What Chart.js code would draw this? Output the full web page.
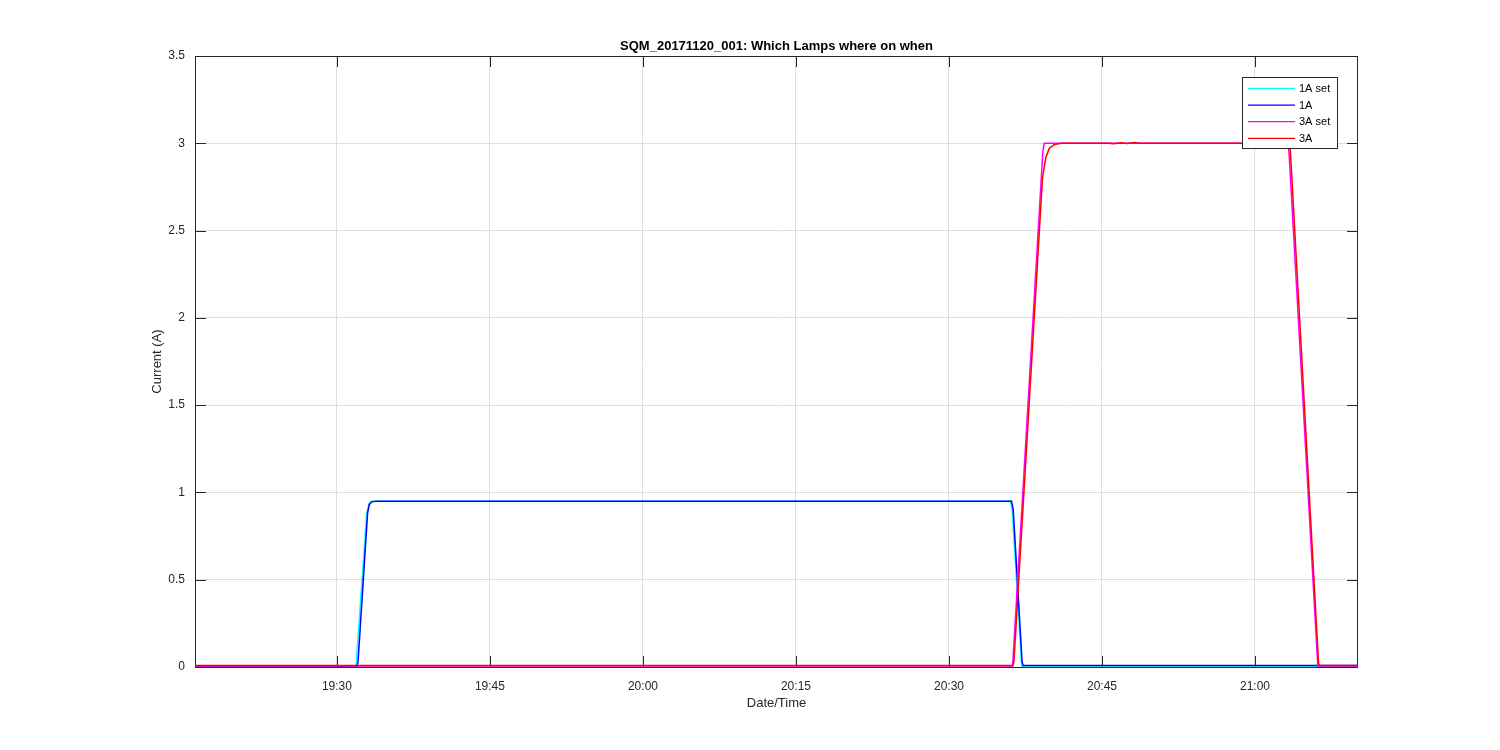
<!DOCTYPE html>
<html>
<head>
<meta charset="utf-8">
<title>SQM_20171120_001</title>
<script src="https://cdn.jsdelivr.net/npm/chart.js@4/dist/chart.umd.min.js"></script>
<style>
  html, body { margin: 0; padding: 0; background: #fff; }
</style>
</head>
<body>
<canvas id="myChart" width="1500" height="750"></canvas>
<script>
'use strict';

// ---- data ----
const chartTitle = 'SQM_20171120_001: Which Lamps where on when';
const xLabel = 'Date/Time';
const yLabel = 'Current (A)';

const xRange = ['19:16:05', '21:10:06'];
const xTickLabels = ['19:30', '19:45', '20:00', '20:15', '20:30', '20:45', '21:00'];
const yTickValues = [0, 0.5, 1, 1.5, 2, 2.5, 3, 3.5];

const seriesNames = ['1A set', '1A', '3A set', '3A'];
const seriesColors = ['#00ffff', '#0000ff', '#ff00ff', '#ff0000'];

const set1aTimes = ['19:16:05', '19:31:52', '19:32:55', '19:33:08', '19:33:22', '20:36:02', '20:36:12', '20:37:08', '21:10:06'];
const set1aValues = [0, 0, 0.88, 0.935, 0.95, 0.95, 0.9, 0, 0];

const lamp1aTimes = ['19:16:05', '19:31:58', '19:32:04', '19:33:00', '19:33:10', '19:33:25', '19:33:50', '20:36:08', '20:36:18', '20:37:10', '20:37:16', '21:10:06'];
const lamp1aValues = [0.005, 0.005, 0.03, 0.88, 0.93, 0.946, 0.95, 0.95, 0.9, 0.03, 0.008, 0.008];

const set3aTimes = ['19:16:05', '20:36:14', '20:39:12', '20:39:20', '21:03:12', '21:03:20', '21:06:10', '21:10:06'];
const set3aValues = [0, 0, 2.95, 3, 3, 2.95, 0, 0];

const lamp3aTimes = ['19:16:05', '20:36:16', '20:36:22', '20:39:10', '20:39:30', '20:39:50', '20:40:20', '20:41:00', '20:45:40', '20:46:10', '20:46:50', '20:47:30', '20:48:10', '20:48:40', '20:49:10', '21:03:18', '21:03:28', '21:06:14', '21:06:20', '21:10:06'];
const lamp3aValues = [0.008, 0.008, 0.03, 2.8, 2.92, 2.97, 2.993, 3.0, 3.0, 2.998, 3.003, 2.999, 3.004, 3.0, 3.0, 3.0, 2.96, 0.02, 0.008, 0.008];

// ---- helpers ----
function toMin(s) {
  const p = s.split(':').map(Number);
  return p[0] * 60 + p[1] + (p[2] || 0) / 60;
}
function fmtMin(v) {
  const h = Math.floor(v / 60), m = Math.round(v - h * 60);
  return h + ':' + String(m).padStart(2, '0');
}
function points(times, values) {
  return times.map(function(t, i) { return { x: toMin(t), y: values[i] }; });
}

const FONT = '"Liberation Sans", Arial, Helvetica, sans-serif';
const INK = '#262626';

const seriesData = [
  points(set1aTimes, set1aValues),
  points(lamp1aTimes, lamp1aValues),
  points(set3aTimes, set3aValues),
  points(lamp3aTimes, lamp3aValues)
];

// MATLAB-ish axes box, inward ticks, legend and labels
const matlabAxes = {
  id: 'matlabAxes',
  beforeDatasetsDraw(chart) {
    const ctx = chart.ctx, a = chart.chartArea;
    const xs = chart.scales.x, ys = chart.scales.y;
    const tl = 11;
    ctx.save();
    ctx.strokeStyle = INK;
    ctx.lineWidth = 1;
    ctx.beginPath();
    xs.ticks.forEach(function(t) {
      const px = Math.round(xs.getPixelForValue(t.value)) + 0.5;
      ctx.moveTo(px, a.bottom); ctx.lineTo(px, a.bottom - tl);
      ctx.moveTo(px, a.top); ctx.lineTo(px, a.top + tl);
    });
    ys.ticks.forEach(function(t) {
      const py = Math.round(ys.getPixelForValue(t.value)) + 0.5;
      ctx.moveTo(a.left, py); ctx.lineTo(a.left + tl, py);
      ctx.moveTo(a.right, py); ctx.lineTo(a.right - tl, py);
    });
    ctx.stroke();
    ctx.strokeRect(Math.round(a.left) + 0.5, Math.round(a.top) + 0.5,
      Math.round(a.right - a.left) - 1, Math.round(a.bottom - a.top));
    ctx.restore();
  },
  afterDraw(chart) {
    const ctx = chart.ctx, a = chart.chartArea;
    const cx = (a.left + a.right) / 2;
    ctx.save();
    ctx.fillStyle = '#000';
    ctx.textAlign = 'center';
    ctx.textBaseline = 'alphabetic';
    ctx.font = 'bold 13px ' + FONT;
    ctx.fillText(chartTitle, cx, 50);

    ctx.fillStyle = INK;
    ctx.font = '13px ' + FONT;
    ctx.fillText(xLabel, cx, 707);

    ctx.save();
    ctx.translate(161, (a.top + a.bottom) / 2);
    ctx.rotate(-Math.PI / 2);
    ctx.fillText(yLabel, 0, 0);
    ctx.restore();

    // legend box
    const bx = 1242.5, by = 77.5, bw = 95, bh = 71;
    ctx.fillStyle = '#fff';
    ctx.fillRect(bx, by, bw, bh);
    ctx.strokeStyle = INK;
    ctx.lineWidth = 1;
    ctx.strokeRect(bx, by, bw, bh);
    ctx.font = '11px ' + FONT;
    ctx.textAlign = 'left';
    ctx.textBaseline = 'middle';
    chart.data.datasets.forEach(function(ds, i) {
      const y = 88.5 + i * 16.6;
      ctx.strokeStyle = ds.borderColor;
      ctx.lineWidth = 1.2;
      ctx.beginPath();
      ctx.moveTo(1248, y); ctx.lineTo(1295, y);
      ctx.stroke();
      ctx.fillStyle = '#000';
      ctx.fillText(ds.label, 1299, y + 0.5);
    });
    ctx.restore();
  }
};

const canvas = document.getElementById('myChart');
const ctx = canvas.getContext('2d');

const chart = new Chart(ctx, {
  type: 'line',
  data: {
    datasets: seriesNames.map(function(name, i) {
      return {
        label: name,
        data: seriesData[i],
        borderColor: seriesColors[i],
        backgroundColor: seriesColors[i],
        borderWidth: 1.5,
        pointRadius: 0,
        tension: 0,
        fill: false,
        order: seriesNames.length - i
      };
    })
  },
  options: {
    responsive: false,
    animation: false,
    layout: { padding: { left: 0, right: 142, top: 56, bottom: 0 } },
    plugins: {
      legend: { display: false },
      title: { display: false },
      tooltip: { enabled: false }
    },
    scales: {
      x: {
        type: 'linear',
        min: toMin(xRange[0]),
        max: toMin(xRange[1]),
        afterFit: function(s) { s.height = 83; },
        afterBuildTicks: function(s) {
          s.ticks = xTickLabels.map(function(l) { return { value: toMin(l) }; });
        },
        grid: { color: '#dedede', drawTicks: false },
        border: { display: false },
        ticks: {
          padding: 12,
          color: INK,
          font: { family: FONT, size: 12 },
          maxRotation: 0,
          autoSkip: false,
          callback: function(v) { return fmtMin(v); }
        }
      },
      y: {
        min: 0,
        max: 3.5,
        afterFit: function(s) { s.width = 195; },
        afterBuildTicks: function(s) {
          s.ticks = yTickValues.map(function(v) { return { value: v }; });
        },
        grid: { color: '#dedede', drawTicks: false },
        border: { display: false },
        ticks: {
          padding: 10,
          color: INK,
          font: { family: FONT, size: 12 },
          callback: function(v) { return String(v); }
        }
      }
    }
  },
  plugins: [matlabAxes]
});
</script>
</body>
</html>
